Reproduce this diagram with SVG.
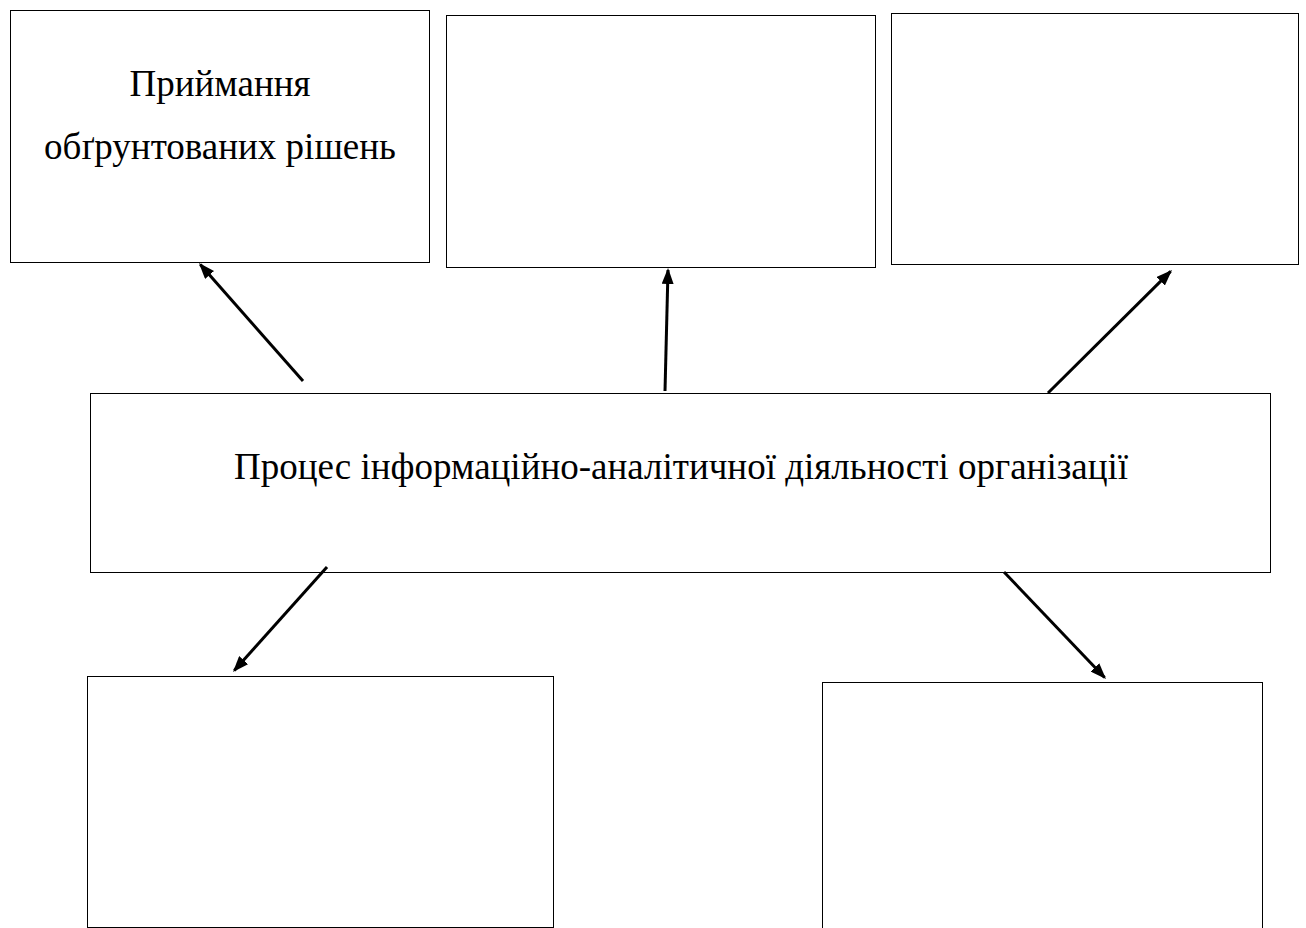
<svg xmlns="http://www.w3.org/2000/svg" width="1306" height="928" viewBox="0 0 1306 928">
<defs>
<marker id="ah" viewBox="0 0 16 12" refX="14" refY="6" markerWidth="16" markerHeight="12" markerUnits="userSpaceOnUse" orient="auto">
<path d="M0,0 L16,6 L0,12 z" fill="#000"/>
</marker>
<style>
.box{fill:#fff;stroke:#000;stroke-width:1}
.lbl{font-family:"Liberation Serif","Times New Roman",serif;font-size:37px;fill:#000;text-anchor:middle}
.con{stroke:#000;stroke-width:3;fill:none;marker-end:url(#ah)}
</style>
</defs>
<rect width="1306" height="928" fill="#fff"/>
<g id="node-decisions">
<rect class="box" x="10.5" y="10.5" width="419" height="252"/>
<text class="lbl" x="220" y="96">Приймання</text>
<text class="lbl" x="220" y="159">обґрунтованих рішень</text>
</g>
<g id="node-top-middle"><rect class="box" x="446.5" y="15.5" width="429" height="252"/></g>
<g id="node-top-right"><rect class="box" x="891.5" y="13.5" width="407" height="251"/></g>
<g id="node-process">
<rect class="box" x="90.5" y="393.5" width="1180" height="179"/>
<text class="lbl" x="681" y="479">Процес інформаційно-аналітичної діяльності організації</text>
</g>
<g id="node-bottom-left"><rect class="box" x="87.5" y="676.5" width="466" height="251"/></g>
<g id="node-bottom-right"><rect class="box" x="822.5" y="682.5" width="440" height="260"/></g>
<g id="connectors">
<line class="con" x1="303" y1="381" x2="200.3" y2="264.5"/>
<line class="con" x1="665" y1="391" x2="668" y2="270"/>
<line class="con" x1="1048" y1="393" x2="1170.6" y2="271.4"/>
<line class="con" x1="327" y1="567" x2="234.3" y2="670.5"/>
<line class="con" x1="1004" y1="572" x2="1104.6" y2="677.5"/>
</g>
</svg>
